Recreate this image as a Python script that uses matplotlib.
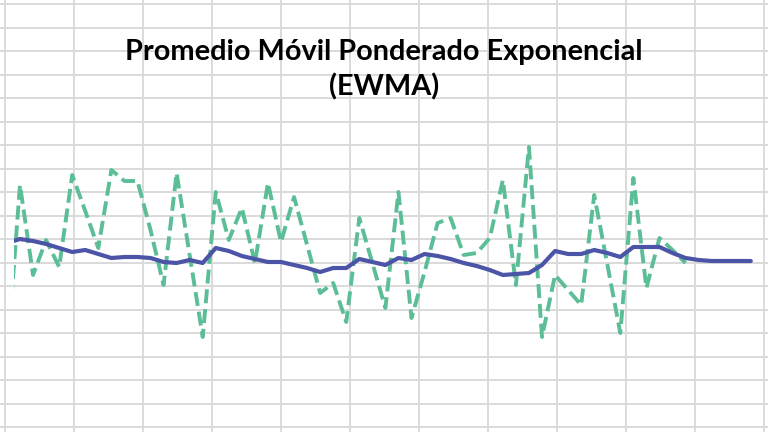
import matplotlib
matplotlib.use("Agg")
import matplotlib.pyplot as plt
import numpy as np

# ---- data ----
periodo = list(range(58))
valores = [-4.85, 3.80, -0.70, 1.05, -0.30, 4.30, 2.50, 0.65, 4.55, 4.00,
           4.00, 1.55, -1.20, 4.40, 0.30, -3.80, 3.45, 1.05, 2.65, -0.10,
           3.90, 0.95, 3.20, 0.80, -1.60, -1.10, -3.05, 2.15, -0.10, -2.35,
           3.45, -2.85, -0.55, 1.90, 2.15, 0.30, 0.40, 1.15, 4.05, -1.20,
           5.70, -3.80, -0.70, -1.45, -2.20, 3.30, -0.15, -3.60, 4.15, -1.35,
           1.15, 0.55, -0.10, None, None, None, None, None]
ewma = [0.90, 1.10, 1.00, 0.85, 0.65, 0.45, 0.55, 0.35, 0.15, 0.20,
        0.20, 0.15, -0.05, -0.10, 0.05, -0.10, 0.65, 0.50, 0.25, 0.10,
        -0.05, -0.05, -0.20, -0.35, -0.55, -0.35, -0.35, 0.10, -0.05, -0.20,
        0.15, 0.05, 0.35, 0.25, 0.10, -0.10, -0.25, -0.45, -0.70, -0.65,
        -0.60, -0.20, 0.50, 0.35, 0.35, 0.55, 0.40, 0.20, 0.70, 0.70,
        0.70, 0.40, 0.15, 0.05, 0.00, 0.00, 0.00, 0.00]
titulo = "Promedio Móvil Ponderado Exponencial\n(EWMA)"

W, H = 768, 432
fig = plt.figure(figsize=(W / 100, H / 100), dpi=100)
fig.patch.set_facecolor("white")

# spreadsheet cell grid in the background
bg = fig.add_axes([0, 0, 1, 1], zorder=0)
bg.set_xlim(0, W)
bg.set_ylim(H, 0)
bg.axis("off")
for xv in np.arange(5, W + 1, 69.0):
    bg.axvline(xv, color="#DADADA", lw=1.4)
for yv in np.arange(4, H + 1, 23.5):
    bg.axhline(yv, color="#DADADA", lw=1.4)

# chart area (transparent)
left_px = 14
ax = fig.add_axes([left_px / W, 0, 1 - left_px / W, 1], zorder=1)
ax.patch.set_alpha(0)
step = 13.05
x0_px = 20 - step
ax.set_xlim((left_px - x0_px) / step, (W - x0_px) / step)
ax.set_ylim((261 - H) / 20, 261 / 20)
ax.axis("off")

v = np.array([np.nan if a is None else a for a in valores], dtype=float)
ax.plot(periodo, v, color="#5BBE96", lw=2.8, dashes=(3.6, 1.5),
        solid_joinstyle="round")
ax.plot(periodo, ewma, color="#4B54A7", lw=3.0, solid_capstyle="round",
        solid_joinstyle="round")

fig.text(0.5, 1 - 39 / H, titulo, ha="center", va="top", fontsize=20.8,
         fontweight="bold", family=["Lato", "DejaVu Sans"], linespacing=1.37,
         color="black")

fig.savefig("out.png", dpi=100)
